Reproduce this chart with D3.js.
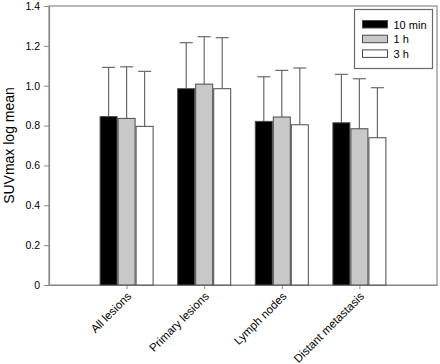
<!DOCTYPE html>
<html><head><meta charset="utf-8">
<script src="https://cdn.jsdelivr.net/npm/d3@7"></script>
<style>body{margin:0;background:#fff;} text{font-family:Arial,"Liberation Sans",sans-serif;fill:#000;}</style>
</head><body>
<svg id="c" width="440" height="364"></svg>
<script>
const categories = ["All lesions", "Primary lesions", "Lymph nodes", "Distant metastasis"];
const seriesNames = ["10 min", "1 h", "3 h"];
const mean10min = [0.845, 0.985, 0.821, 0.814];
const mean1h   = [0.836, 1.008, 0.843, 0.784];
const mean3h   = [0.796, 0.985, 0.804, 0.739];
const err10min = [1.092, 1.216, 1.045, 1.057];
const err1h    = [1.095, 1.246, 1.077, 1.035];
const err3h    = [1.072, 1.241, 1.089, 0.990];
const yTicks = [0, 0.2, 0.4, 0.6, 0.8, 1.0, 1.2, 1.4];
const yTickLabels = ["0", "0.2", "0.4", "0.6", "0.8", "1.0", "1.2", "1.4"];
const colors = ["#000000", "#c8c8c8", "#ffffff"];

const means = [mean10min, mean1h, mean3h];
const errs = [err10min, err1h, err3h];

const svg = d3.select("#c");
const L = 49, R = 437, T = 6, B = 285;
const x = d3.scaleLinear().domain([0, categories.length + 1]).range([L, R]);
const y = d3.scaleLinear().domain([0, 1.4]).range([B, T]);
const bw = 17, gap = 1;

svg.append("rect").attr("x", L).attr("y", T).attr("width", R - L).attr("height", B - T)
  .attr("fill", "none").attr("stroke", "#8a8a8a").attr("stroke-width", 1.2);

const ya = svg.append("g").attr("transform", `translate(${L},0)`)
  .call(d3.axisLeft(y).tickValues(yTicks).tickFormat((d, i) => yTickLabels[i]).tickSize(5).tickPadding(4));
ya.attr("font-family", null);
ya.select(".domain").attr("stroke", "#8a8a8a").attr("stroke-width", 1.2);
ya.selectAll(".tick line").attr("stroke", "#8a8a8a");
ya.selectAll("text").style("font-size", "10.5px");

const xa = svg.append("g").attr("transform", `translate(0,${B})`)
  .call(d3.axisBottom(x).tickValues(categories.map((c, i) => i + 1)).tickFormat((d) => categories[d - 1]).tickSize(4).tickSizeOuter(0));
xa.attr("font-family", null).attr("text-anchor", null);
xa.select(".domain").attr("stroke", "#8a8a8a").attr("stroke-width", 1.2);
xa.selectAll(".tick line").attr("stroke", "#8a8a8a");
xa.selectAll("text")
  .style("font-size", "11.5px")
  .style("text-anchor", "end")
  .attr("x", null).attr("y", null).attr("dy", null)
  .attr("transform", "translate(5,12) rotate(-45)");

means.forEach((arr, s) => {
  const g = svg.append("g");
  arr.forEach((v, i) => {
    const cx = x(i + 1) + (s - 1) * (bw + gap);
    g.append("line").attr("x1", cx).attr("x2", cx).attr("y1", y(v)).attr("y2", y(errs[s][i]))
      .attr("stroke", "#6a6a6a").attr("stroke-width", 1.2);
    g.append("line").attr("x1", cx - 6.5).attr("x2", cx + 6.5).attr("y1", y(errs[s][i])).attr("y2", y(errs[s][i]))
      .attr("stroke", "#6a6a6a").attr("stroke-width", 1.2);
    g.append("rect").attr("x", cx - bw / 2).attr("y", y(v)).attr("width", bw).attr("height", y(0) - y(v))
      .attr("fill", colors[s]).attr("stroke", "#4a4a4a").attr("stroke-width", 1);
  });
});

svg.append("text").attr("transform", `translate(14,${(T + B) / 2}) rotate(-90)`)
  .attr("text-anchor", "middle").style("font-size", "14px").text("SUVmax log mean");

const lg = svg.append("g");
lg.append("rect").attr("x", 354.5).attr("y", 9.5).attr("width", 78).attr("height", 59)
  .attr("fill", "#fff").attr("stroke", "#6a6a6a").attr("stroke-width", 1.2);
seriesNames.forEach((n, i) => {
  const yy = 20.5 + i * 14.7;
  lg.append("rect").attr("x", 362.5).attr("y", yy).attr("width", 25).attr("height", 7.5)
    .attr("fill", colors[i]).attr("stroke", "#4a4a4a").attr("stroke-width", 1);
  lg.append("text").attr("x", 393.5).attr("y", yy + 8).style("font-size", "11px").text(n);
});
</script>
</body></html>
